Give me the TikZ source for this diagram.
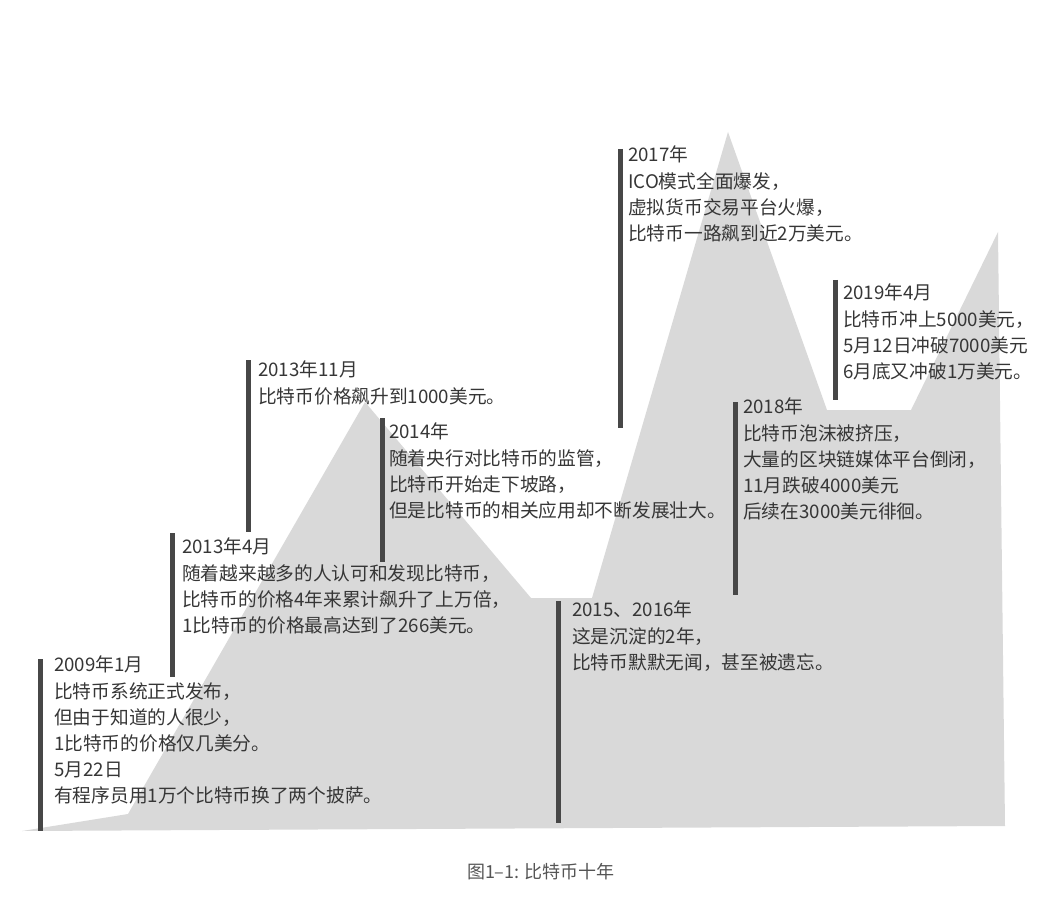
\documentclass[tikz,border=0pt]{standalone}
\usepackage{fontspec}
\setmainfont{Noto Sans CJK SC}
\usepackage{xcolor}
\definecolor{fond}{HTML}{D9D9D9}
\definecolor{barre}{HTML}{474747}
\definecolor{texte}{HTML}{363636}
\definecolor{legende}{HTML}{555555}
\begin{document}
\begin{tikzpicture}[
    x=1pt, y=-1pt,
    event/.style={anchor=north west, inner sep=0pt, align=left, text=texte, font=\fontsize{18.7}{26.2}\selectfont},
    stem/.style={draw=barre, line width=5pt},
    caption/.style={text=legende, font=\fontsize{18}{20}\selectfont}
]
\useasboundingbox (0,0) rectangle (1058,904);

% Courbe du prix (fond gris)
\fill[fond] (22,831) -- (128,814) -- (365,402) -- (531,598) -- (592,598) -- (728,132)
    -- (827,410) -- (911,410) -- (998,232) -- (1005,826) -- cycle;

% Barres verticales
\draw[stem] (40,659) -- (40,831);
\draw[stem] (172,533) -- (172,677);
\draw[stem] (248,360) -- (248,532);
\draw[stem] (382,418) -- (382,562);
\draw[stem] (558,601) -- (558,823);
\draw[stem] (620,149) -- (620,428);
\draw[stem] (735,402) -- (735,595);
\draw[stem] (835,280) -- (835,400);

% Evenements
\node[event] (e2009) at (54,656) {2009年1月\\比特币系统正式发布，\\但由于知道的人很少，\\1比特币的价格仅几美分。\\5月22日\\有程序员用1万个比特币换了两个披萨。};
\node[event] (e2013a) at (182,538) {2013年4月\\随着越来越多的人认可和发现比特币，\\比特币的价格4年来累计飙升了上万倍，\\1比特币的价格最高达到了266美元。};
\node[event] (e2013b) at (258,361) {2013年11月\\比特币价格飙升到1000美元。};
\node[event] (e2014) at (389,423) {2014年\\随着央行对比特币的监管，\\比特币开始走下坡路，\\但是比特币的相关应用却不断发展壮大。};
\node[event] (e2015) at (572,601) {2015、2016年\\这是沉淀的2年，\\比特币默默无闻，甚至被遗忘。};
\node[event] (e2017) at (628,146) {2017年\\ICO模式全面爆发，\\虚拟货币交易平台火爆，\\比特币一路飙到近2万美元。};
\node[event] (e2018) at (743,398) {2018年\\比特币泡沫被挤压，\\大量的区块链媒体平台倒闭，\\11月跌破4000美元\\后续在3000美元徘徊。};
\node[event] (e2019) at (843,284) {2019年4月\\比特币冲上5000美元，\\5月12日冲破7000美元\\6月底又冲破1万美元。};

% Legende
\node[caption] (titre) at (541,872) {图1–1: 比特币十年};

\end{tikzpicture}
\end{document}
